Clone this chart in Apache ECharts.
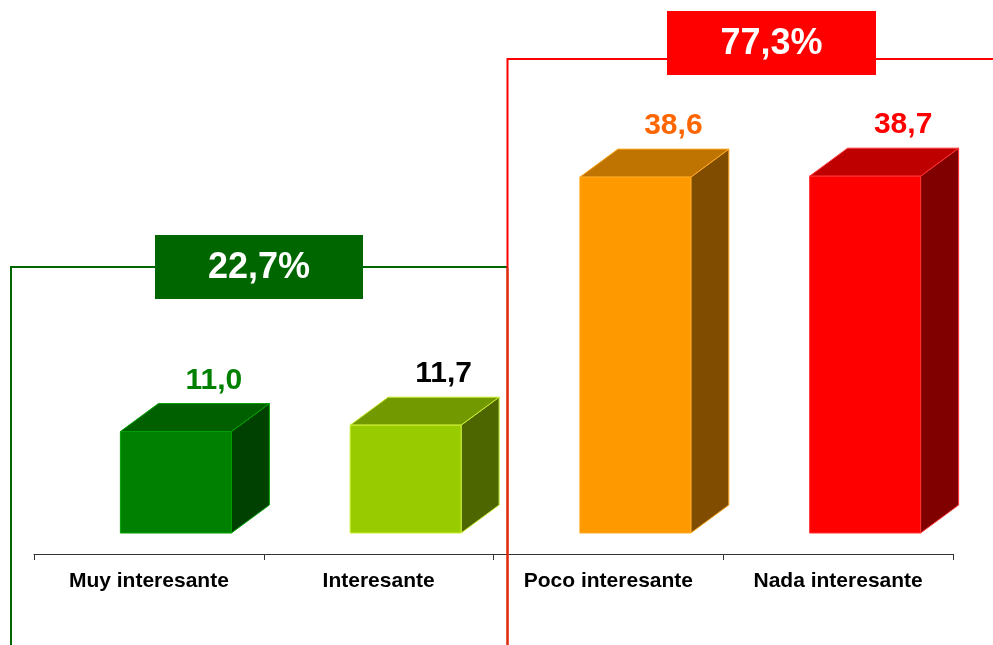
<!DOCTYPE html>
<html>
<head>
<meta charset="utf-8">
<script src="https://cdn.jsdelivr.net/npm/echarts@6/dist/echarts.min.js"></script>
<style>
  html, body { margin: 0; padding: 0; background: #fff; }
  #chart { width: 993px; height: 645px; }
</style>
</head>
<body>
<div id="chart"></div>
<script>
// Survey answers and their shares (%)
const categories = ['Muy interesante', 'Interesante', 'Poco interesante', 'Nada interesante'];
const values = [11.0, 11.7, 38.6, 38.7];

// Which answers are summed in each bracket
const positiveGroup = [0, 1];
const negativeGroup = [2, 3];

// Face shading for each 3D box: front, top, side, edge, value label
const palette = [
  { front: '#008000', top: '#006000', side: '#004000', edge: '#00a000', label: '#008000' },
  { front: '#99cc00', top: '#739900', side: '#4d6600', edge: '#ccee33', label: '#000000' },
  { front: '#ff9900', top: '#bf7300', side: '#804d00', edge: '#ffaa22', label: '#ff6600' },
  { front: '#ff0000', top: '#bf0000', side: '#800000', edge: '#ff3333', label: '#ff0000' }
];

const fmt = v => v.toFixed(1).replace('.', ',');
const sumOf = idx => idx.reduce((s, i) => s + values[i], 0);

const FONT = '"Liberation Sans", Arial, sans-serif';

// Perspective: floor shift of the boxes and depth of each box
const FLOOR_DX = 27, FLOOR_DY = -21;
const DEPTH_DX = 38, DEPTH_DY = -28;

function renderBox(params, api) {
  const i = api.value(0);
  const v = api.value(1);
  const base = api.coord([i, 0]);
  const top = api.coord([i, v]);
  const band = api.size([1, 0])[0];
  const w = band * 0.483;
  const x0 = base[0] + FLOOR_DX - w / 2;
  const x1 = x0 + w;
  const yb = base[1] + FLOOR_DY;
  const yt = top[1] + FLOOR_DY;
  const c = palette[i];
  return {
    type: 'group',
    children: [
      {
        type: 'polygon',
        shape: { points: [[x1, yt], [x1 + DEPTH_DX, yt + DEPTH_DY], [x1 + DEPTH_DX, yb + DEPTH_DY], [x1, yb]] },
        style: { fill: c.side, stroke: c.edge, lineWidth: 1 }
      },
      {
        type: 'polygon',
        shape: { points: [[x0, yt], [x1, yt], [x1 + DEPTH_DX, yt + DEPTH_DY], [x0 + DEPTH_DX, yt + DEPTH_DY]] },
        style: { fill: c.top, stroke: c.edge, lineWidth: 1 }
      },
      {
        type: 'rect',
        shape: { x: x0, y: yt, width: w, height: yb - yt },
        style: { fill: c.front, stroke: c.edge, lineWidth: 1 }
      },
      {
        type: 'text',
        x: x0 + DEPTH_DX + w / 2,
        y: yt + DEPTH_DY - 8,
        style: {
          text: fmt(v),
          fill: c.label,
          font: 'bold 30px ' + FONT,
          align: 'center',
          verticalAlign: 'bottom'
        }
      }
    ]
  };
}

const chart = echarts.init(document.getElementById('chart'));
chart.setOption({
  backgroundColor: '#ffffff',
  animation: false,
  grid: { left: 34, right: 40, top: 93, bottom: 91 },
  xAxis: {
    type: 'category',
    data: categories,
    axisLine: { lineStyle: { color: '#333333', width: 1 } },
    axisTick: { show: true, length: 6, lineStyle: { color: '#333333', width: 1 } },
    axisLabel: { color: '#000', fontWeight: 'bold', fontSize: 21, fontFamily: FONT, margin: 17 }
  },
  yAxis: { type: 'value', min: 0, max: 50, show: false },
  series: [{
    type: 'custom',
    renderItem: renderBox,
    data: values.map((v, i) => [i, v]),
    encode: { x: 0, y: 1 },
    clip: false
  }],
  graphic: [
    // bracket for the two positive answers
    {
      type: 'polyline', z: 10,
      shape: { points: [[11, 645], [11, 267], [507, 267]] },
      style: { stroke: '#006600', lineWidth: 2, fill: null }
    },
    // bracket for the two negative answers
    {
      type: 'polyline', z: 11,
      shape: { points: [[507.5, 645], [507.5, 59], [993, 59]] },
      style: { stroke: '#ff0000', lineWidth: 2, fill: null }
    },
    {
      type: 'line', z: 12,
      shape: { x1: 507.5, y1: 268, x2: 507.5, y2: 645 },
      style: { stroke: '#d8300c', lineWidth: 2 }
    },
    {
      type: 'rect', z: 20,
      shape: { x: 155, y: 235, width: 208, height: 64 },
      style: { fill: '#006600' }
    },
    {
      type: 'text', z: 21,
      x: 259, y: 268,
      style: {
        text: fmt(sumOf(positiveGroup)) + '%',
        fill: '#ffffff', font: 'bold 36px ' + FONT,
        align: 'center', verticalAlign: 'middle'
      }
    },
    {
      type: 'rect', z: 20,
      shape: { x: 667, y: 11, width: 209, height: 64 },
      style: { fill: '#ff0000' }
    },
    {
      type: 'text', z: 21,
      x: 771.5, y: 44,
      style: {
        text: fmt(sumOf(negativeGroup)) + '%',
        fill: '#ffffff', font: 'bold 36px ' + FONT,
        align: 'center', verticalAlign: 'middle'
      }
    }
  ]
});
</script>
</body>
</html>
